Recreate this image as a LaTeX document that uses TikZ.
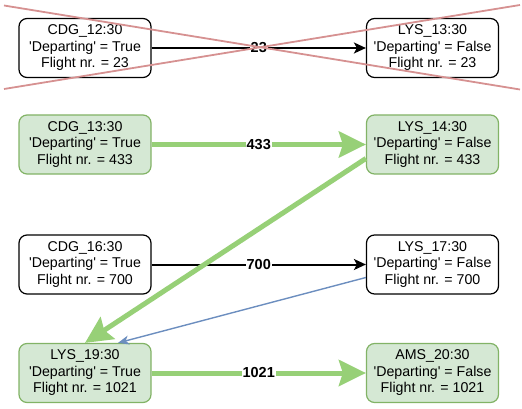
\documentclass[tikz,border=0pt]{standalone}
\usepackage{fontspec}
\setmainfont{Liberation Sans}
\usetikzlibrary{arrows.meta}
\definecolor{gfill}{HTML}{D5E8D4}
\definecolor{gborder}{HTML}{82B366}
\definecolor{garrow}{HTML}{97D077}
\definecolor{barrow}{HTML}{6C8EBF}
\definecolor{crossred}{RGB}{214,145,145}
\newcommand{\dep}{\textquotesingle Departing\textquotesingle{} = }
\tikzset{
  flight/.style={draw=black, line width=1.2pt, rounded corners=8pt, minimum width=132pt, minimum height=59pt,
    inner sep=0pt, align=center, font=\fontsize{14.2}{16.5}\selectfont, fill=white},
  gflight/.style={flight, draw=gborder, fill=gfill},
  blackarrow/.style={draw=black, line width=2pt, -{Stealth[length=12pt,width=11pt,inset=3pt]}},
  greenarrow/.style={draw=garrow, line width=5pt, -{Stealth[length=27pt,width=26pt,inset=4pt]}},
  bluearrow/.style={draw=barrow, line width=1.4pt, -{Stealth[length=11pt,width=9pt,inset=3pt]}},
  elabel/.style={fill=white, inner sep=1pt, font=\fontsize{14.5}{16.5}\selectfont\bfseries},
  crossline/.style={draw=crossred, line width=1.8pt},
}
\begin{document}
\begin{tikzpicture}[x=1pt,y=-1pt]
\useasboundingbox (0,0) rectangle (522,409);
\node[flight] (l1) at (85,48) {CDG\_12:30\\\dep True\\Flight nr. = 23};
\node[flight] (r1) at (432.5,48) {LYS\_13:30\\\dep False\\Flight nr. = 23};
\node[gflight] (l2) at (85,144.5) {CDG\_13:30\\\dep True\\Flight nr. = 433};
\node[gflight] (r2) at (432.5,144.5) {LYS\_14:30\\\dep False\\Flight nr. = 433};
\node[flight] (l3) at (85,264.5) {CDG\_16:30\\\dep True\\Flight nr. = 700};
\node[flight] (r3) at (432.5,264.5) {LYS\_17:30\\\dep False\\Flight nr. = 700};
\node[gflight] (l4) at (85,373) {LYS\_19:30\\\dep True\\Flight nr. = 1021};
\node[gflight] (r4) at (432.5,373) {AMS\_20:30\\\dep False\\Flight nr. = 1021};

\draw[blackarrow] (l1.east) -- node[elabel] {23} (r1.west);
\draw[greenarrow] (l2.east) -- node[elabel] {433} (r2.west);
\draw[blackarrow] (l3.east) -- node[elabel] {700} (r3.west);
\draw[greenarrow] ([yshift=-14pt]r2.west) -- (l4.north);
\draw[bluearrow] ([yshift=-13pt]r3.west) -- ([xshift=33pt]l4.north);
\draw[greenarrow] (l4.east) -- node[elabel] {1021} (r4.west);

\coordinate (c1) at (4,5.5);
\coordinate (c2) at (520,89.5);
\coordinate (c3) at (4,89);
\coordinate (c4) at (520,5);
\draw[crossline] (c1) -- (c2);
\draw[crossline] (c3) -- (c4);
\end{tikzpicture}
\end{document}
